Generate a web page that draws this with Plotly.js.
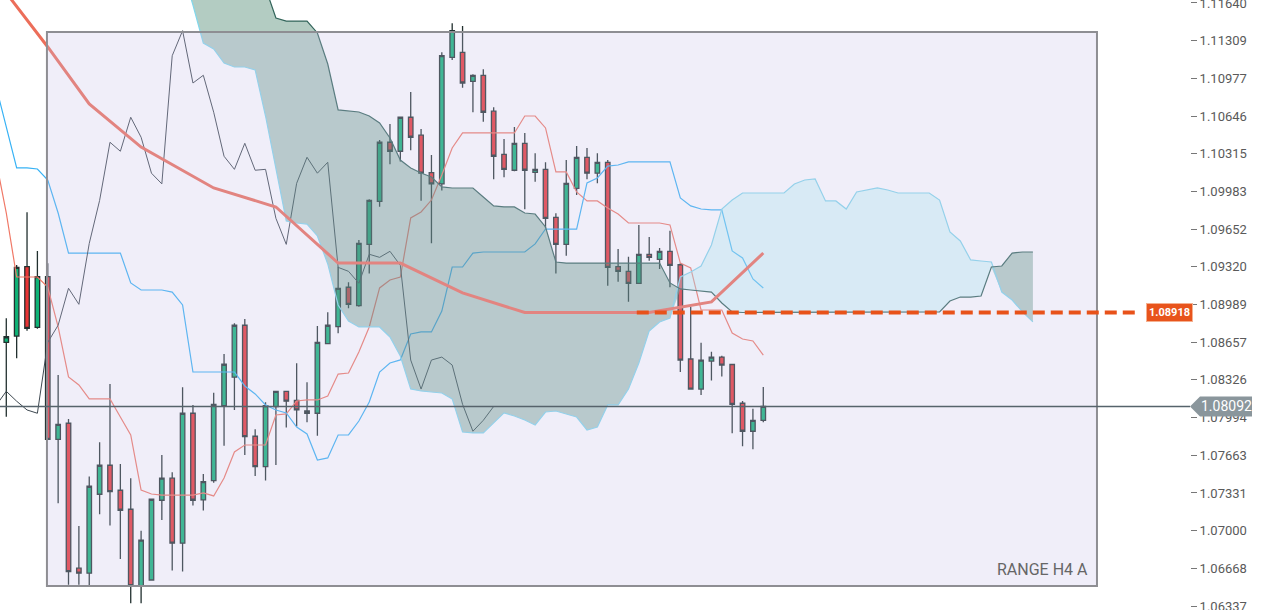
<!DOCTYPE html>
<html>
<head>
<meta charset="utf-8">
<script src="https://cdn.plot.ly/plotly-3.0.1.min.js"></script>
<style>
  html, body { margin: 0; padding: 0; background: #fff; }
  #chart { width: 1263px; height: 610px; }
</style>
</head>
<body>
<div id="chart"></div>
<script>
// candles, bar index 0..73
var opens = [1.08656, 1.08711, 1.09321, 1.08788, 1.09233, 1.07803, 1.07944, 1.06670, 1.06626, 1.07320,
  1.07575, 1.07355, 1.07188, 1.06517, 1.06566, 1.07267, 1.07461, 1.06890, 1.08032, 1.07270,
  1.07440, 1.08099, 1.08349, 1.08806, 1.07830, 1.07562, 1.08090, 1.08225, 1.08146, 1.08052,
  1.08032, 1.08644, 1.08793, 1.09140, 1.08978, 1.09517, 1.09896, 1.10415, 1.10336, 1.10635,
  1.10477, 1.10148, 1.10049, 1.11162, 1.11206, 1.10951, 1.11004, 1.10688, 1.10309, 1.10169,
  1.10406, 1.10151, 1.10177, 1.09755, 1.09517, 1.10010, 1.10283, 1.10143, 1.10239, 1.09321,
  1.09280, 1.09175, 1.09430, 1.09386, 1.09456, 1.09338, 1.08509, 1.08245, 1.08491, 1.08526,
  1.08461, 1.08120, 1.07874, 1.07970];
var highs = [1.08867, 1.09336, 1.09799, 1.09459, 1.09351, 1.08369, 1.07982, 1.07041, 1.07475, 1.07777,
  1.08290, 1.07586, 1.07461, 1.06998, 1.07279, 1.07666, 1.07514, 1.08261, 1.08105, 1.07499,
  1.08213, 1.08553, 1.08823, 1.08861, 1.07891, 1.08129, 1.08228, 1.08228, 1.08472, 1.08304,
  1.08799, 1.08920, 1.09321, 1.09184, 1.09555, 1.09913, 1.10435, 1.10576, 1.10637, 1.10857,
  1.10532, 1.10304, 1.11206, 1.11461, 1.11437, 1.11013, 1.11057, 1.10723, 1.10444, 1.10550,
  1.10497, 1.10318, 1.10239, 1.09790, 1.10259, 1.10382, 1.10365, 1.10318, 1.10259, 1.09476,
  1.09409, 1.09687, 1.09582, 1.09485, 1.09637, 1.09351, 1.08969, 1.08652, 1.08573, 1.08538,
  1.08461, 1.08140, 1.08072, 1.08263];
var lows = [1.08002, 1.08516, 1.08758, 1.08776, 1.07797, 1.07241, 1.06523, 1.06523, 1.06508, 1.07144,
  1.07044, 1.06751, 1.06361, 1.06361, 1.06566, 1.07094, 1.06649, 1.06640, 1.07220, 1.07176,
  1.07422, 1.07747, 1.08061, 1.07666, 1.07480, 1.07440, 1.07578, 1.07906, 1.07915, 1.07953,
  1.07835, 1.08644, 1.08735, 1.08955, 1.08969, 1.09262, 1.09848, 1.10222, 1.10245, 1.10345,
  1.09901, 1.09526, 1.09990, 1.11138, 1.10895, 1.10679, 1.10596, 1.10089, 1.10107, 1.10160,
  1.09825, 1.10068, 1.09658, 1.09262, 1.09417, 1.09951, 1.10089, 1.10054, 1.09153, 1.09188,
  1.09013, 1.09175, 1.09373, 1.09300, 1.09139, 1.08395, 1.08245, 1.08193, 1.08321, 1.08356,
  1.07856, 1.07742, 1.07715, 1.07953];
var closes = [1.08705, 1.09315, 1.08779, 1.09233, 1.07803, 1.07935, 1.06640, 1.06626, 1.07390, 1.07575,
  1.07343, 1.07179, 1.06517, 1.06916, 1.07276, 1.07461, 1.06890, 1.08032, 1.07267, 1.07431,
  1.08111, 1.08463, 1.08806, 1.07826, 1.07562, 1.08099, 1.08225, 1.08138, 1.08061, 1.08032,
  1.08656, 1.08806, 1.09131, 1.08990, 1.09526, 1.09904, 1.10415, 1.10336, 1.10635, 1.10459,
  1.10143, 1.10049, 1.11176, 1.11396, 1.10936, 1.11004, 1.10679, 1.10292, 1.10177, 1.10406,
  1.10169, 1.10177, 1.09746, 1.09517, 1.10054, 1.10283, 1.10143, 1.10239, 1.09315, 1.09280,
  1.09175, 1.09430, 1.09403, 1.09456, 1.09333, 1.08500, 1.08245, 1.08500, 1.08526, 1.08456,
  1.08111, 1.07874, 1.07970, 1.08092];

// ichimoku lines, first value belongs to bar -1
var lineStart = -1;
var tenkan = [1.10259, 1.09793, 1.09230, 1.09230, 1.09230, 1.09142, 1.08791, 1.08351, 1.08281, 1.08158,
  1.08158, 1.08158, 1.07999, 1.07841, 1.07357, 1.07322, 1.07313, 1.07313, 1.07313, 1.07313,
  1.07331, 1.07305, 1.07463, 1.07692, 1.07753, 1.07753, 1.07753, 1.08017, 1.08026, 1.08140,
  1.08149, 1.08149, 1.08184, 1.08377, 1.08386, 1.08571, 1.08791, 1.09134, 1.09204, 1.09230,
  1.09749, 1.09802, 1.09907, 1.10127, 1.10365, 1.10497, 1.10497, 1.10497, 1.10497, 1.10497,
  1.10497, 1.10646, 1.10646, 1.10541, 1.10154, 1.10154, 1.09978, 1.09899, 1.09899, 1.09837,
  1.09784, 1.09705, 1.09705, 1.09705, 1.09705, 1.09688, 1.09353, 1.09310, 1.08940, 1.08940,
  1.08940, 1.08738, 1.08685, 1.08668, 1.08544];
var kijun = [1.10910, 1.10549, 1.10189, 1.10189, 1.10180, 1.10083, 1.09793, 1.09441, 1.09441, 1.09441,
  1.09441, 1.09441, 1.09441, 1.09178, 1.09116, 1.09116, 1.09116, 1.09098, 1.08984, 1.08395,
  1.08395, 1.08395, 1.08395, 1.08395, 1.08272, 1.08202, 1.08105, 1.08061, 1.08035, 1.07911,
  1.07850, 1.07621, 1.07639, 1.07841, 1.07841, 1.07964, 1.08131, 1.08395, 1.08474, 1.08501,
  1.08729, 1.08747, 1.08747, 1.08931, 1.09318, 1.09318, 1.09441, 1.09450, 1.09450, 1.09450,
  1.09450, 1.09450, 1.09521, 1.09652, 1.09652, 1.09652, 1.09652, 1.10057, 1.10101, 1.10206,
  1.10215, 1.10242, 1.10242, 1.10242, 1.10242, 1.10242, 1.09925, 1.09855, 1.09828, 1.09820,
  1.09820, 1.09459, 1.09397, 1.09213, 1.09134];

// cloud, first value belongs to bar 17, last to bar 99
var cloudStart = 17;
var senkouA = [1.11930, 1.11622, 1.11288, 1.11235, 1.11112, 1.11077, 1.11077, 1.11051, 1.10646, 1.10189,
  1.09723, 1.09705, 1.09696, 1.09591, 1.09345, 1.08984, 1.08843, 1.08791, 1.08791, 1.08791,
  1.08703, 1.08536, 1.08246, 1.08228, 1.08219, 1.08210, 1.08158, 1.07867, 1.07859, 1.07859,
  1.07947, 1.08035, 1.08008, 1.07973, 1.07929, 1.08043, 1.08052, 1.08026, 1.07999, 1.07885,
  1.07911, 1.08105, 1.08105, 1.08246, 1.08474, 1.08756, 1.08835, 1.08870, 1.09230, 1.09274,
  1.09327, 1.09512, 1.09828, 1.09907, 1.09969, 1.09969, 1.09969, 1.09969, 1.09969, 1.10048,
  1.10083, 1.10092, 1.09899, 1.09899, 1.09828, 1.09978, 1.09995, 1.10013, 1.09995, 1.09969,
  1.09969, 1.09969, 1.09969, 1.09907, 1.09626, 1.09547, 1.09380, 1.09371, 1.09362, 1.09098,
  1.09028, 1.08923, 1.08835];
var senkouB = [1.12062, 1.12062, 1.12062, 1.12062, 1.12062, 1.12018, 1.11974, 1.11930, 1.11772, 1.11508,
  1.11481, 1.11481, 1.11481, 1.11376, 1.11103, 1.10699, 1.10690, 1.10681, 1.10646, 1.10585,
  1.10453, 1.10259, 1.10189, 1.10145, 1.10110, 1.10022, 1.10013, 1.10013, 1.10013, 1.09934,
  1.09855, 1.09846, 1.09846, 1.09793, 1.09784, 1.09670, 1.09362, 1.09353, 1.09353, 1.09353,
  1.09353, 1.09353, 1.09353, 1.09353, 1.09353, 1.09353, 1.09353, 1.09178, 1.09125, 1.09116,
  1.09107, 1.09098, 1.09002, 1.08923, 1.08918, 1.08918, 1.08918, 1.08918, 1.08918, 1.08918,
  1.08918, 1.08918, 1.08918, 1.08918, 1.08918, 1.08918, 1.08918, 1.08918, 1.08918, 1.08918,
  1.08918, 1.08918, 1.08918, 1.08923, 1.09019, 1.09054, 1.09054, 1.09063, 1.09318, 1.09327,
  1.09441, 1.09450, 1.09450];
var chikouShift = 26;

// slow moving average, read at its corners
var maBars = [0, 4, 8, 13, 20, 26, 32, 38, 44, 50, 62, 68, 73];
var maVals = [1.11728, 1.11253, 1.10752, 1.10373, 1.10013, 1.09846, 1.09353, 1.09353, 1.09090, 1.08918,
  1.08918, 1.09011, 1.09441];

var lastPrice = 1.08092;
var kumoLevel = 1.08918;
var priceTicks = [1.06337, 1.06668, 1.07000, 1.07331, 1.07663, 1.07994, 1.08326, 1.08657, 1.08989,
  1.09320, 1.09652, 1.09983, 1.10315, 1.10646, 1.10977, 1.11309, 1.11640];

// the "RANGE H4 A" box, in bars and prices
var rangeBox = {x0: 3.92, x1: 105.18, y0: 1.06513, y1: 1.11385};
var levelFrom = 60.8, levelTo = 109.3;

function bars(n, start) {
  var out = [];
  for (var i = 0; i < n; i++) out.push(start + i);
  return out;
}

var candleX = bars(closes.length, 0);
var lineX = bars(tenkan.length, lineStart);
var cloudX = bars(senkouA.length, cloudStart);
var lowAB = senkouA.map(function (a, k) { return Math.min(a, senkouB[k]); });

var chikouX = [], chikouY = [];
for (var i = 24; i < closes.length; i++) {
  chikouX.push(i - chikouShift);
  chikouY.push(closes[i]);
}

function lineTrace(x, y, color, width) {
  return {
    x: x, y: y, type: 'scatter', mode: 'lines',
    line: {color: color, width: width},
    hoverinfo: 'skip', showlegend: false
  };
}

var traces = [
  {
    type: 'candlestick', x: candleX,
    open: opens, high: highs, low: lows, close: closes,
    increasing: {line: {color: '#22302f', width: 1.3}, fillcolor: '#0fb376'},
    decreasing: {line: {color: '#22302f', width: 1.3}, fillcolor: '#e93435'},
    whiskerwidth: 0, hoverinfo: 'skip', showlegend: false
  },
  lineTrace(lineX, tenkan, 'rgb(240,120,102)', 1.2),
  lineTrace(lineX, kijun, 'rgb(55,178,245)', 1.2),
  lineTrace(chikouX, chikouY, '#3e4850', 1),
  // dark cloud: B above A
  lineTrace(cloudX, senkouB, 'rgba(0,0,0,0)', 0),
  Object.assign(lineTrace(cloudX, lowAB, 'rgba(0,0,0,0)', 0), {fill: 'tonexty', fillcolor: 'rgba(38,109,81,0.35)'}),
  // light cloud: A above B
  lineTrace(cloudX, senkouA, 'rgba(0,0,0,0)', 0),
  Object.assign(lineTrace(cloudX, lowAB, 'rgba(0,0,0,0)', 0), {fill: 'tonexty', fillcolor: 'rgba(145,238,238,0.3)'}),
  lineTrace(cloudX, senkouA, 'rgb(130,215,235)', 1.2),
  lineTrace(cloudX, senkouB, 'rgb(50,100,90)', 1.2),
  lineTrace(maBars, maVals, 'rgb(236,110,90)', 3)
];

var layout = {
  width: 1263, height: 610,
  margin: {l: 0, r: 73, t: 0, b: 0, pad: 0},
  paper_bgcolor: '#ffffff', plot_bgcolor: '#ffffff',
  font: {family: 'Roboto, sans-serif', color: '#5a5a5a'},
  showlegend: false, hovermode: false,
  boxgap: 0.38,
  xaxis: {
    range: [-0.607, 114.15], visible: false,
    rangeslider: {visible: false}, fixedrange: true
  },
  yaxis: {
    side: 'right', range: [1.06302, 1.11666],
    tickvals: priceTicks, tickformat: '.5f',
    ticks: 'outside', ticklen: 6, tickcolor: '#777', tickwidth: 1,
    tickfont: {size: 13, color: '#5a5a5a'},
    ticklabeloverflow: 'allow',
    showgrid: false, zeroline: false, showline: false, fixedrange: true
  },
  shapes: [
    {
      type: 'rect', layer: 'above', xref: 'x', yref: 'y',
      x0: rangeBox.x0, x1: rangeBox.x1, y0: rangeBox.y0, y1: rangeBox.y1,
      fillcolor: 'rgba(200,194,232,0.27)',
      line: {color: '#8e8e93', width: 2}
    },
    {
      type: 'line', layer: 'above', xref: 'x', yref: 'y',
      x0: levelFrom, x1: levelTo, y0: kumoLevel, y1: kumoLevel,
      line: {color: '#e8521a', width: 4, dash: '12px,6px'}
    },
    {
      type: 'line', layer: 'above', xref: 'paper', yref: 'y',
      x0: 0, x1: 1, y0: lastPrice, y1: lastPrice,
      line: {color: '#56636b', width: 1.5}
    },
    {
      type: 'path', layer: 'above', xref: 'paper', yref: 'y',
      path: 'M 1,' + lastPrice + ' L 1.0084,' + (lastPrice + 0.00088) + ' L 1.0521,' + (lastPrice + 0.00088) +
        ' L 1.0521,' + (lastPrice - 0.00088) + ' L 1.0084,' + (lastPrice - 0.00088) + ' Z',
      fillcolor: '#8a969c', line: {width: 0}
    }
  ],
  annotations: [
    {
      text: 'RANGE H4 A', xref: 'x', yref: 'y', x: 104.5, y: 1.06654,
      xanchor: 'right', yanchor: 'middle', showarrow: false,
      font: {size: 16, color: '#666666'}
    },
    {
      text: kumoLevel.toFixed(5), xref: 'paper', yref: 'y', x: 0.9824, y: kumoLevel,
      xanchor: 'center', yanchor: 'middle', showarrow: false,
      bgcolor: '#e8541c', bordercolor: '#f5b090', borderwidth: 1, borderpad: 2,
      font: {size: 11, color: '#ffffff', weight: 'bold'}
    },
    {
      text: lastPrice.toFixed(5), xref: 'paper', yref: 'y', x: 1.0303, y: lastPrice,
      xanchor: 'center', yanchor: 'middle', showarrow: false,
      font: {size: 14, color: '#ffffff'}
    }
  ]
};

Plotly.newPlot('chart', traces, layout, {displayModeBar: false, staticPlot: true});
</script>
</body>
</html>
